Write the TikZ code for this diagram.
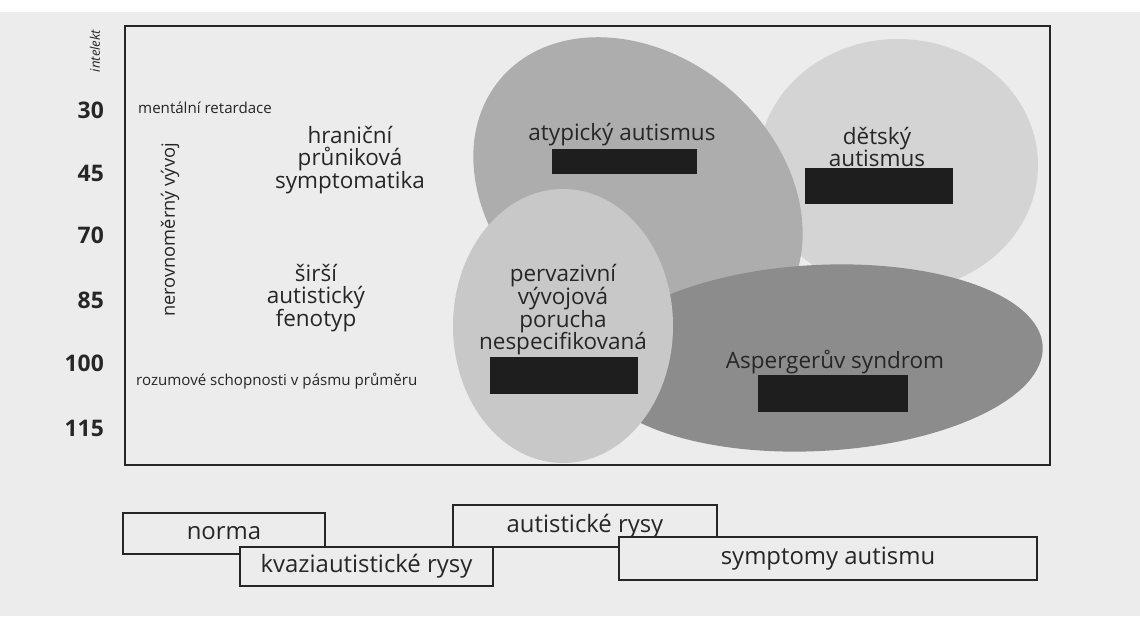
\documentclass[tikz,border=0pt]{standalone}
\usepackage{fontspec}
\setmainfont{Open Sans}
\usetikzlibrary{positioning}

\definecolor{pagegray}{HTML}{ECECEC}
\definecolor{inkgray}{HTML}{262626}
\definecolor{barblack}{HTML}{1E1E1E}
\definecolor{detcolor}{HTML}{D4D4D4}
\definecolor{atypcolor}{HTML}{ADADAD}
\definecolor{aspcolor}{HTML}{8C8C8C}
\definecolor{pervcolor}{HTML}{C8C8C8}

\begin{document}
\begin{tikzpicture}[x=0.02cm, y=0.02cm,
  lbl/.style={font={\fontsize{12.8}{12.9}\selectfont\lineskiplimit=-6pt\relax}, text=inkgray, align=center},
  smalltext/.style={font=\fontsize{8.6}{10}\selectfont, text=inkgray, anchor=west},
  tickno/.style={font=\fontsize{13}{14}\selectfont\bfseries, text=inkgray, anchor=east},
  bar/.style={fill=barblack, inner sep=0pt},
  rangebox/.style={draw=inkgray, fill=pagegray, line width=0.8pt, inner sep=0pt,
    font=\fontsize{13.6}{14}\selectfont, text=inkgray}]
  % page
  \fill[pagegray] (0,0) rectangle (1140,616);
  \fill[white] (0,604) rectangle (1140,616);
  \useasboundingbox (0,0) rectangle (1140,616);

  % ellipses, back to front
  \fill[detcolor] (898,451) ellipse [x radius=140, y radius=126];
  \fill[atypcolor, rotate around={-40:(638,421)}] (638,421) ellipse [x radius=180, y radius=140];
  \fill[aspcolor, rotate around={3:(818,258)}] (818,258) ellipse [x radius=225, y radius=93];
  \fill[pervcolor] (563,290) ellipse [x radius=110, y radius=137];

  % frame
  \draw[inkgray, line width=0.6pt] (125,151) rectangle (1050,590);

  % axis
  \node[font=\fontsize{7.5}{9}\selectfont\itshape, text=inkgray, rotate=90] (intelekt) at (95,565) {intelekt};
  \node[tickno] (t30) at (110,506) {30};
  \node[tickno] (t45) at (110,443) {45};
  \node[tickno] (t70) at (110,381) {70};
  \node[tickno] (t85) at (110,316) {85};
  \node[tickno] (t100) at (110,253) {100};
  \node[tickno] (t115) at (110,188) {115};

  % left side texts
  \node[smalltext] (retard) at (132,508) {mentální retardace};
  \node[smalltext] (prumer) at (130,235) {rozumové schopnosti v pásmu průměru};
  \node[lbl, rotate=90, font=\fontsize{10.4}{12}\selectfont] (nerov) at (170,386) {nerovnoměrný vývoj};
  \node[lbl] (hranicni) at (350,456) {hraniční\\průniková\\symptomatika};
  \node[lbl] (sirsi) at (316,318) {širší\\autistický\\fenotyp};

  % diagnoses
  \node[lbl] (atyp) at (622,481) {atypický autismus};
  \node[bar, minimum width=2.9cm, minimum height=0.5cm] (atypbar) at (624.5,454.5) {};
  \node[lbl] (detsky) at (877,469) {dětský\\autismus};
  \node[bar, minimum width=2.96cm, minimum height=0.72cm] (detbar) at (879,430) {};
  \node[lbl] (perv) at (563,306) {pervazivní\\vývojová\\porucha\\nespecifikovaná};
  \node[bar, minimum width=2.96cm, minimum height=0.74cm] (pervbar) at (564,240.5) {};
  \node[lbl] (asp) at (835,254) {Aspergerův syndrom};
  \node[bar, minimum width=3.0cm, minimum height=0.74cm] (aspbar) at (833,222.5) {};

  % ranges below
  \node[rangebox, minimum width=4.04cm, minimum height=0.82cm] (norma) at (224,82.5) {norma};
  \node[rangebox, minimum width=5.28cm, minimum height=0.84cm] (rysy) at (585,90) {autistické rysy};
  \node[rangebox, minimum width=5.06cm, minimum height=0.78cm] (kvazi) at (366.5,49.5) {kvaziautistické rysy};
  \node[rangebox, minimum width=8.36cm, minimum height=0.86cm] (symptomy) at (828,57.5) {symptomy autismu};
\end{tikzpicture}
\end{document}
